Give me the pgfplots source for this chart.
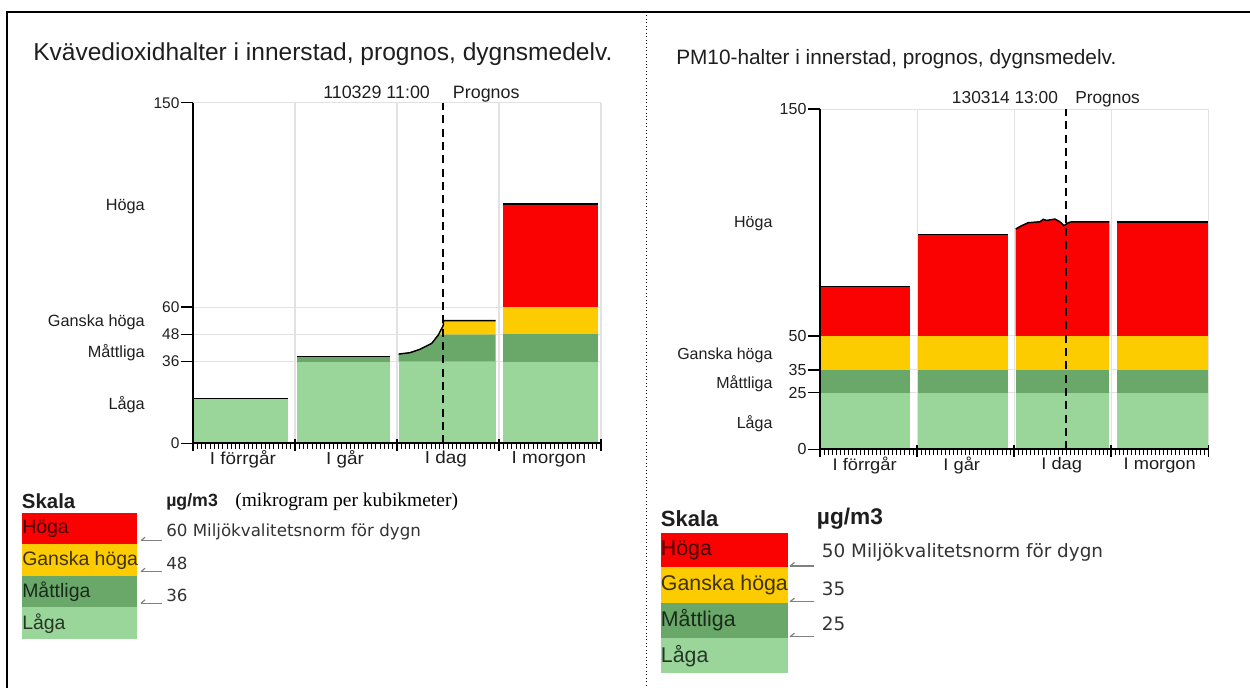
\documentclass[border=0pt]{standalone}
\usepackage{pgfplots}
\pgfplotsset{compat=1.18}
\usepackage{fontspec}
\setmainfont{Liberation Sans}
\newfontfamily\seriffont{Liberation Serif}
\newfontfamily\dvfont{DejaVu Sans}
\definecolor{lgreen}{RGB}{154,214,154}
\definecolor{dgreen}{RGB}{106,168,106}
\definecolor{yel}{RGB}{252,203,0}
\definecolor{red1}{RGB}{250,2,2}
\definecolor{gridc}{RGB}{226,226,226}
\definecolor{txt}{RGB}{30,30,30}
\definecolor{txt2}{RGB}{51,51,51}
\newcommand\fs[1]{\fontsize{#1}{#1}\selectfont}
\newcommand{\rbar}[5]{\addplot[fill=#1,draw=none] coordinates {(#2,#4) (#2,#5) (#3,#5) (#3,#4)} -- cycle;}
\newcommand{\topl}[3]{\addplot[black,line width=1.1pt] coordinates {(#1,#3) (#2,#3)};}
\newcommand{\xl}[1]{\scalebox{1.09}[1]{#1}}
\pgfplotsset{
 layers/gridbelow/.define layer set={axis background,axis grid,main,axis ticks,axis lines,axis tick labels,axis descriptions,axis foreground}{/pgfplots/layers/standard},
 mychart/.style={
   set layers=gridbelow,
   scale only axis, anchor=south west,
   xmin=0,xmax=4,ymin=0,ymax=150,
   clip=false,
   axis x line*=bottom, axis y line*=left,
   axis line style={black,line width=1.4pt},
   xtick={0,1,2,3,4}, xticklabels={,,,,},
   minor x tick num=23,
   xtick align=outside, ytick align=outside,
   major tick length=9pt, minor tick length=4pt,
   tick style={black,line width=1.1pt},
   minor tick style={line width=0.7pt},
   every major x tick/.append style={yshift=3.5pt},
   grid=major, grid style={gridc,line width=0.8pt},
   /pgf/number format/assume math mode=true,
   yticklabel style={inner xsep=1pt,text=txt},
 }
}
\begin{document}
\begin{tikzpicture}
\begin{scope}[x=0.75pt,y=-0.75pt]
\useasboundingbox (0,0) rectangle (1250,688);
\coordinate (O1) at (193,443.3);
\coordinate (O2) at (820,449.3);
% frame
\draw[black,line width=2.2pt] (6,12) -- (1250,12);
\draw[black,line width=1.8pt] (7,11) -- (7,688);
\draw[black,line width=0.6pt,dotted] (646.7,12) -- (646.7,688);
% titles
\node[anchor=base west,inner sep=0,font=\fs{18.4},text=txt] at (33,61) {Kvävedioxidhalter i innerstad, prognos, dygnsmedelv.};
\node[anchor=base west,inner sep=0,font=\fs{15.6},text=txt] at (676,65) {PM10-halter i innerstad, prognos, dygnsmedelv.};
% annotations
\node[anchor=base west,inner sep=0,font=\fs{13.4},text=txt] at (323,98.3) {110329 11:00};
\node[anchor=base west,inner sep=0,font=\fs{13.4},text=txt] at (452.7,98.3) {Prognos};
\node[anchor=base west,inner sep=0,font=\fs{13},text=txt] at (951.7,104) {130314 13:00};
\node[anchor=base west,inner sep=0,font=\fs{13},text=txt] at (1075,104) {Prognos};
% category labels left
\node[anchor=east,inner sep=0,font=\fs{12.2},text=txt] at (145,206.7) {Höga};
\node[anchor=east,inner sep=0,font=\fs{12.2},text=txt] at (145,322.7) {Ganska höga};
\node[anchor=east,inner sep=0,font=\fs{12.2},text=txt] at (145,352.7) {Måttliga};
\node[anchor=east,inner sep=0,font=\fs{12.2},text=txt] at (145,405) {Låga};
% category labels right
\node[anchor=east,inner sep=0,font=\fs{12},text=txt] at (772.7,224) {Höga};
\node[anchor=east,inner sep=0,font=\fs{12},text=txt] at (772.7,355) {Ganska höga};
\node[anchor=east,inner sep=0,font=\fs{12},text=txt] at (772.7,383.3) {Måttliga};
\node[anchor=east,inner sep=0,font=\fs{12},text=txt] at (772.7,423.3) {Låga};
% legend left
\node[anchor=west,inner sep=0,font=\bfseries\fs{15.3},text=txt] at (21.7,501.7) {Skala};
\node[anchor=west,inner sep=0,font=\bfseries\fs{13.3},text=txt] at (166,501.7) {µg/m3};
\node[anchor=west,inner sep=0,font=\seriffont\fs{14.6},text=black] at (235,501.7) {(mikrogram per kubikmeter)};
\fill[red1] (22,512.7) rectangle (137,544);
\fill[yel] (22,544) rectangle (137,576);
\fill[dgreen] (22,576) rectangle (137,607.3);
\fill[lgreen] (22,607.3) rectangle (137,639);
\node[anchor=west,inner sep=0,font=\fs{14.6},text opacity=0.75] at (22,528.4) {Höga};
\node[anchor=west,inner sep=0,font=\fs{14.6},text opacity=0.75] at (22,560) {Ganska höga};
\node[anchor=west,inner sep=0,font=\fs{14.6},text opacity=0.75] at (22,591.7) {Måttliga};
\node[anchor=west,inner sep=0,font=\fs{14.6},text opacity=0.75] at (22,623.2) {Låga};
\foreach \yy in {540.7,571.7,603.3}{
  \draw[gray,line width=0.9pt] (141,\yy) -- (161.7,\yy);
  \draw[gray,line width=0.9pt] (141,\yy) -- (145,\yy-3.5);
}
\node[anchor=west,inner sep=0,font=\dvfont\fs{12.5},text=txt2] at (166,531.7) {60 Miljökvalitetsnorm för dygn};
\node[anchor=west,inner sep=0,font=\dvfont\fs{12.5},text=txt2] at (166,563.3) {48};
\node[anchor=west,inner sep=0,font=\dvfont\fs{12.5},text=txt2] at (166,595) {36};
% legend right
\node[anchor=west,inner sep=0,font=\bfseries\fs{16.5},text=txt] at (660.7,519) {Skala};
\node[anchor=west,inner sep=0,font=\bfseries\fs{17},text=txt] at (816.7,519) {µg/m3};
\fill[red1] (660.7,532.7) rectangle (787.7,567.3);
\fill[yel] (660.7,567.3) rectangle (787.7,602.7);
\fill[dgreen] (660.7,602.7) rectangle (787.7,638.3);
\fill[lgreen] (660.7,638.3) rectangle (787.7,673.3);
\node[anchor=west,inner sep=0,font=\fs{16},text opacity=0.75] at (660.7,550) {Höga};
\node[anchor=west,inner sep=0,font=\fs{16},text opacity=0.75] at (660.7,585) {Ganska höga};
\node[anchor=west,inner sep=0,font=\fs{16},text opacity=0.75] at (660.7,620.5) {Måttliga};
\node[anchor=west,inner sep=0,font=\fs{16},text opacity=0.75] at (660.7,655.8) {Låga};
\foreach \yy in {566,601.7,636.7}{
  \draw[gray,line width=0.9pt] (790,\yy) -- (814,\yy);
  \draw[gray,line width=0.9pt] (790,\yy) -- (794.5,\yy-3.5);
}
\node[anchor=west,inner sep=0,font=\dvfont\fs{13.8},text=txt2] at (821.7,552.7) {50 Miljökvalitetsnorm för dygn};
\node[anchor=west,inner sep=0,font=\dvfont\fs{13.8},text=txt2] at (821.7,588.3) {35};
\node[anchor=west,inner sep=0,font=\dvfont\fs{13.8},text=txt2] at (821.7,623.3) {25};
\end{scope}

% ---------- left chart: NO2 ----------
\begin{axis}[mychart, at={(O1)}, width=306pt, height=255.45pt,
  ytick={0,36,48,60,150}, yticklabel style={font=\fs{11.6}}]
\rbar{lgreen}{0}{0.93}{0}{19.8}
\topl{0}{0.93}{19.8}
\rbar{lgreen}{1.017}{1.93}{0}{36}
\rbar{dgreen}{1.017}{1.93}{36}{38.3}
\topl{1.017}{1.93}{38.3}
\rbar{lgreen}{2.016}{2.968}{0}{36}
\addplot[fill=dgreen,draw=none] coordinates {(2.016,36) (2.016,39.3) (2.127,39.9) (2.225,41.4) (2.34,44.0) (2.405,47.7) (2.4085,48) (2.968,48) (2.968,36)} -- cycle;
\addplot[fill=yel,draw=none] coordinates {(2.4085,48) (2.448,51.4) (2.454,52.1) (2.454,54) (2.968,54) (2.968,48)} -- cycle;
\addplot[black,line width=1.1pt] coordinates {(2.016,39.3) (2.127,39.9) (2.225,41.4) (2.34,44.0) (2.405,47.7) (2.448,51.4) (2.454,52.1) (2.454,54) (2.968,54)};
\rbar{lgreen}{3.04}{3.966}{0}{36}
\rbar{dgreen}{3.04}{3.966}{36}{48}
\rbar{yel}{3.04}{3.966}{48}{60}
\rbar{red1}{3.04}{3.966}{60}{105.3}
\topl{3.04}{3.966}{105.3}
\addplot[black,line width=1.3pt,dash pattern=on 6pt off 4pt] coordinates {(2.454,0) (2.454,150)};
\node[font=\fs{13},text=txt] at (axis cs:0.49,0) [yshift=-12pt] {\xl{I förrgår}};
\node[font=\fs{13},text=txt] at (axis cs:1.49,0) [yshift=-12pt] {\xl{I går}};
\node[font=\fs{13},text=txt] at (axis cs:2.48,0) [yshift=-12pt] {\xl{I dag}};
\node[font=\fs{13},text=txt] at (axis cs:3.49,0) [yshift=-12pt] {\xl{I morgon}};
\end{axis}

% ---------- right chart: PM10 ----------
\begin{axis}[mychart, at={(O2)}, width=291.2pt, height=255.2pt,
  ytick={0,25,35,50,150}, yticklabel style={font=\fs{12}}]
\rbar{lgreen}{0}{0.927}{0}{25}
\rbar{dgreen}{0}{0.927}{25}{35}
\rbar{yel}{0}{0.927}{35}{50}
\rbar{red1}{0}{0.927}{50}{71.7}
\topl{0}{0.927}{71.7}
\rbar{lgreen}{1.011}{1.938}{0}{25}
\rbar{dgreen}{1.011}{1.938}{25}{35}
\rbar{yel}{1.011}{1.938}{35}{50}
\rbar{red1}{1.011}{1.938}{50}{94.8}
\topl{1.011}{1.938}{94.8}
\rbar{lgreen}{2.016}{2.98}{0}{25}
\rbar{dgreen}{2.016}{2.98}{25}{35}
\rbar{yel}{2.016}{2.98}{35}{50}
\addplot[fill=red1,draw=none] coordinates {(2.016,50) (2.016,97.1) (2.078,98.6) (2.146,99.9) (2.266,100.3) (2.300,101.4) (2.335,100.9) (2.421,101.5) (2.472,100.3) (2.513,98.6) (2.558,99.9) (2.593,100.3) (2.98,100.3) (2.98,50)} -- cycle;
\addplot[black,line width=1.1pt] coordinates {(2.016,97.1) (2.078,98.6) (2.146,99.9) (2.266,100.3) (2.300,101.4) (2.335,100.9) (2.421,101.5) (2.472,100.3) (2.513,98.6) (2.558,99.9) (2.593,100.3) (2.98,100.3)};
\rbar{lgreen}{3.056}{3.997}{0}{25}
\rbar{dgreen}{3.056}{3.997}{25}{35}
\rbar{yel}{3.056}{3.997}{35}{50}
\rbar{red1}{3.056}{3.997}{50}{100.3}
\topl{3.056}{3.997}{100.3}
\addplot[black,line width=1.3pt,dash pattern=on 6pt off 4pt] coordinates {(2.534,0) (2.534,150)};
\node[font=\fs{12.6},text=txt] at (axis cs:0.46,0) [yshift=-11.8pt] {\xl{I förrgår}};
\node[font=\fs{12.6},text=txt] at (axis cs:1.46,0) [yshift=-11.8pt] {\xl{I går}};
\node[font=\fs{12.6},text=txt] at (axis cs:2.49,0) [yshift=-11.8pt] {\xl{I dag}};
\node[font=\fs{12.6},text=txt] at (axis cs:3.5,0) [yshift=-11.8pt] {\xl{I morgon}};
\end{axis}
\end{tikzpicture}
\end{document}
